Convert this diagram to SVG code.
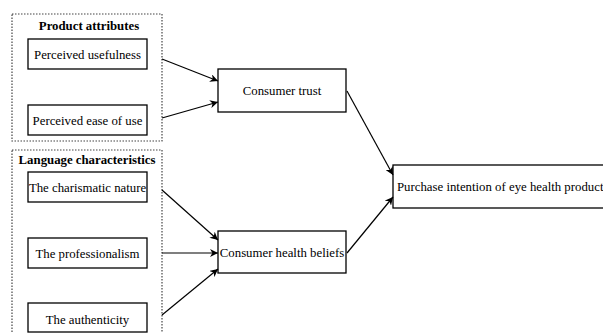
<svg xmlns="http://www.w3.org/2000/svg" width="603" height="333" viewBox="0 0 603 333">
<style>
.box{fill:#fff;stroke:#000;stroke-width:1.3}
.grp{fill:none;stroke:#444;stroke-width:1.2;stroke-dasharray:1.5 1.5}
text{font-family:"Liberation Serif","Times New Roman",serif;font-size:12.8px;fill:#000;text-anchor:middle;dominant-baseline:central}
.h{font-weight:bold}
.c{stroke:#000;stroke-width:1.2;fill:none;marker-end:url(#ah)}
</style>
<defs>
<marker id="ah" viewBox="0 0 10 10" refX="10" refY="5" markerWidth="8" markerHeight="8" markerUnits="userSpaceOnUse" orient="auto">
<path d="M0,0 L10,5 L0,10 L3,5 z" fill="#000"/>
</marker>
</defs>
<rect width="603" height="333" fill="#fff"/>
<g id="group-product">
<rect class="grp" x="12" y="14" width="150" height="127"/>
<text class="h" x="89" y="26">Product attributes</text>
</g>
<g id="group-language">
<rect class="grp" x="12" y="150" width="150" height="190"/>
<text class="h" x="87" y="160">Language characteristics</text>
</g>
<g id="n-usefulness">
<rect class="box" x="28" y="39" width="119" height="30"/>
<text x="87.5" y="55">Perceived usefulness</text>
</g>
<g id="n-ease">
<rect class="box" x="28" y="105" width="119" height="30"/>
<text x="87.5" y="121">Perceived ease of use</text>
</g>
<g id="n-charismatic">
<rect class="box" x="28" y="172" width="119" height="30"/>
<text x="87.5" y="188">The charismatic nature</text>
</g>
<g id="n-professionalism">
<rect class="box" x="28" y="238" width="119" height="30"/>
<text x="87.5" y="254">The professionalism</text>
</g>
<g id="n-authenticity">
<rect class="box" x="28" y="303" width="119" height="29"/>
<text x="87.5" y="320">The authenticity</text>
</g>
<g id="n-trust">
<rect class="box" x="218" y="69" width="128" height="43"/>
<text x="282" y="91">Consumer trust</text>
</g>
<g id="n-beliefs">
<rect class="box" x="218" y="231" width="128" height="42"/>
<text x="282" y="253">Consumer health beliefs</text>
</g>
<g id="n-purchase">
<rect class="box" x="393" y="165" width="215" height="43"/>
<text x="397" y="187" style="text-anchor:start">Purchase intention of eye health product</text>
</g>
<g id="connectors">
<line class="c" x1="162" y1="59" x2="218" y2="81"/>
<line class="c" x1="162" y1="118" x2="218" y2="102"/>
<line class="c" x1="162" y1="190" x2="218" y2="240"/>
<line class="c" x1="162" y1="253" x2="218" y2="253"/>
<line class="c" x1="162" y1="315" x2="218" y2="269"/>
<line class="c" x1="347" y1="91" x2="393" y2="175"/>
<line class="c" x1="347" y1="253" x2="393" y2="197"/>
</g>
</svg>
